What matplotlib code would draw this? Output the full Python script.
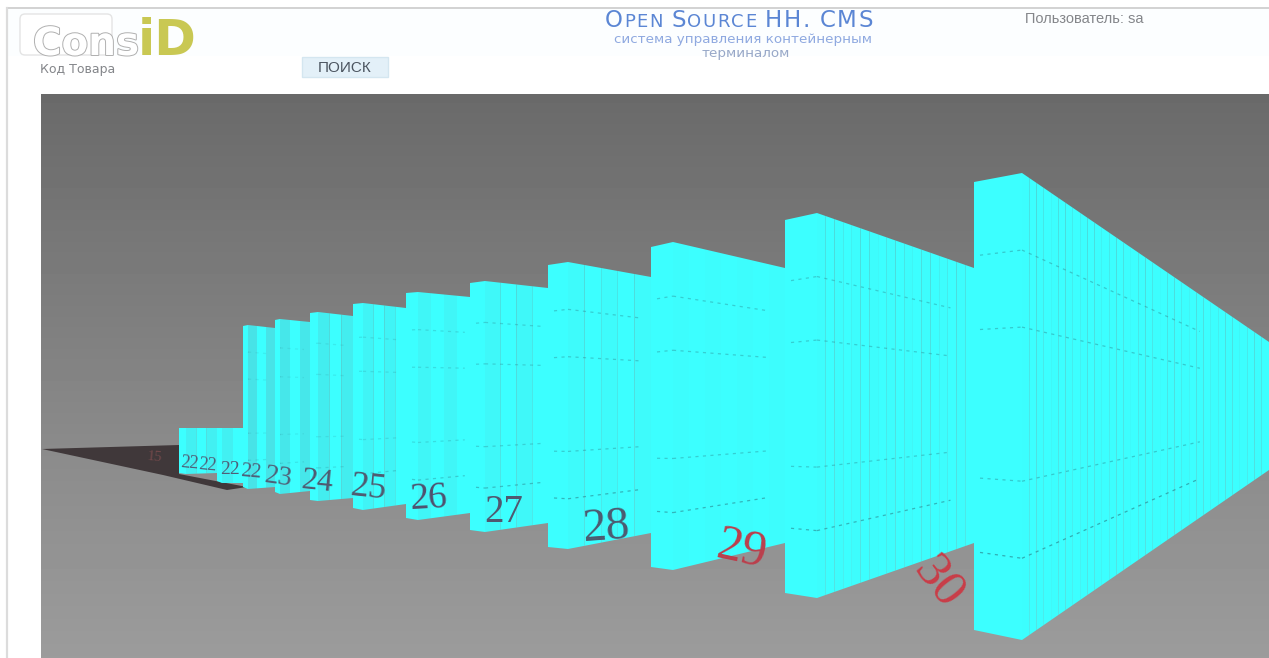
import matplotlib
matplotlib.use('Agg')
import matplotlib.pyplot as plt
import matplotlib.patheffects as pe
from matplotlib.patches import Polygon, Rectangle, FancyBboxPatch
import numpy as np

W, H = 1269, 658

# warehouse racks, nearest group last: (front edge, nearest corner, far edge)
rack_front_x = [179, 217, 243, 275, 310, 353, 406, 470, 548, 651, 785, 974]
rack_peak_x = [186, 222, 248, 280, 318, 363, 418, 485, 568, 673, 817, 1022]
rack_end_x = [217, 243, 275, 310, 353, 406, 470, 548, 651, 785, 974, 1269]
rack_front_top = [428, 428, 326, 320, 313, 304, 293, 283, 265, 247, 220, 182]
rack_peak_top = [428, 428, 325, 319, 312, 303, 292, 281, 262, 242, 213, 173]
rack_end_top = [428, 428, 328, 322, 316, 308, 297, 288, 277, 268, 268, 342]
rack_front_bot = [473, 481, 487, 492, 500, 508, 518, 530, 547, 567, 593, 630]
rack_peak_bot = [474, 483, 489, 494, 501, 510, 520, 532, 549, 570, 598, 640]
rack_end_bot = [473, 483, 487, 491, 498, 504, 513, 523, 533, 543, 543, 470]
rack_columns = [3, 2, 3, 3, 3, 4, 4, 4, 5, 7, 18, 34]
stripe_tone = [0.5, 0.5, 0.9, 0.8, 0.6, 0.35, 0.3, 0.22, 0.14, 0.08, 0.06, 0.04]
shelf_alpha = [0, 0, 0.12, 0.12, 0.15, 0.2, 0.25, 0.32, 0.38, 0.38, 0.38, 0.42]
shelf_reach = [0, 0, 0.8, 0.8, 0.8, 0.85, 0.9, 0.9, 0.85, 0.85, 0.85, 0.72]

# row numbers painted on the floor
row_labels = ['15', '22', '22', '22', '22', '23', '24', '25', '26', '27', '28', '29', '30']
label_x = [155, 190, 208, 230, 251, 278, 317, 368, 429, 504, 607, 742, 938]
label_y = [457, 463, 465, 470, 472, 477, 482, 488, 499, 512, 528, 550, 582]
label_size = [11, 13, 13, 14, 15, 20, 23, 26, 27, 28, 34, 36, 37]
label_rot = [-5, -5, -5, 0, -5, -8, -6, -6, 3, 0, 4, -12, -52]
label_color = ['#70484a', '#4f5f78', '#4f5f78', '#4f5f78', '#4f5f78', '#4f6078', '#4f5a70',
               '#505a70', '#50506e', '#505870', '#4c5a70', '#bb3f4c', '#c93d48']

shelf_levels = [0.165, 0.33, 0.66, 0.825]
shadow_x = [42, 179, 179, 247, 227, 163]
shadow_y = [449, 445, 474, 487, 490, 475]

CYAN = np.array([0.235, 1.0, 1.0])
SHADE = np.array([0.30, 0.84, 0.86])
BLUE = '#5b86d4'
GREY = '#84868a'
OLIVE = '#c9c853'

fig = plt.figure(figsize=(W / 100, H / 100), dpi=100, facecolor='white')
ax = fig.add_axes([0, 0, 1, 1])
ax.set_xlim(0, W)
ax.set_ylim(H, 0)
ax.axis('off')

# page frame and header wash
ax.add_patch(Rectangle((7, 8), W - 7, 48, fc='#fcfeff', ec='none', zorder=0))
ax.plot([7, W], [8, 8], color='#d2d2d2', lw=1.4, zorder=1)
ax.plot([7, 7], [8, H], color='#dcdcdc', lw=1.6, zorder=1)

# backdrop: dark at the top, lighter toward the floor
shade = np.interp(np.arange(94, H), [94, 450, 658], [0.415, 0.545, 0.61])
ax.imshow(shade[:, None], extent=(41, W, H, 94), cmap='gray', vmin=0, vmax=1,
          aspect='auto', zorder=1)
ax.set_xlim(0, W)
ax.set_ylim(H, 0)

ax.add_patch(Polygon(np.column_stack([shadow_x, shadow_y]), fc='#40383a', ec='none', zorder=2))


def interp_edges(x, i):
    xs = [rack_front_x[i], rack_peak_x[i], rack_end_x[i]]
    top = np.interp(x, xs, [rack_front_top[i], rack_peak_top[i], rack_end_top[i]])
    bot = np.interp(x, xs, [rack_front_bot[i], rack_peak_bot[i], rack_end_bot[i]])
    return top, bot


for i in range(len(rack_front_x)):
    x0, xp, x1 = rack_front_x[i], rack_peak_x[i], rack_end_x[i]
    n = rack_columns[i]
    edges = np.concatenate([[x0, xp], np.linspace(xp, x1, n + 1)[1:]])
    for k in range(len(edges) - 1):
        xs = [edges[k], edges[k + 1]]
        top, bot = interp_edges(np.array(xs), i)
        mix = stripe_tone[i] * (0.0 if k % 2 == 0 else 0.75)
        col = CYAN * (1 - mix) + SHADE * mix
        pts = list(zip(xs, top)) + list(zip(xs[::-1], bot[::-1]))
        ax.add_patch(Polygon(pts, fc=col, ec='none', zorder=3 + i * 0.01))
    # shelf lines, only really visible on the near part of each group
    if shelf_alpha[i] == 0:
        continue
    xs = np.linspace(xp, xp + (x1 - xp) * shelf_reach[i], 60)
    top, bot = interp_edges(xs, i)
    front_x = np.array([x0 + 6, xp])
    ft, fb = interp_edges(front_x, i)
    for lev in shelf_levels:
        a = shelf_alpha[i] * (1.5 if lev == shelf_levels[3] else 1.0)
        ax.plot(xs, top + (bot - top) * lev, color='#2a7f88', lw=0.9, alpha=a,
                ls=(0, (2.5, 3.5)), zorder=3.5)
        ax.plot(front_x, ft + (fb - ft) * lev, color='#2a7f88', lw=0.9, alpha=a,
                ls=(0, (2.5, 3.5)), zorder=3.5)

for lab, x, y, s, r, c in zip(row_labels, label_x, label_y, label_size, label_rot, label_color):
    ax.text(x, y, lab, fontsize=s, rotation=r, color=c, family='Liberation Serif',
            ha='center', va='center', zorder=5, rotation_mode='anchor')

# logo
ax.add_patch(FancyBboxPatch((20, 14), 92, 41, boxstyle='round,pad=0,rounding_size=5',
                            fc='white', ec='#e4e4e4', lw=1, zorder=2))
ax.text(33, 55, 'Cons', fontsize=28, fontweight='bold', color='white', family='DejaVu Sans',
        ha='left', va='baseline', zorder=3,
        path_effects=[pe.withStroke(linewidth=1.4, foreground='#b0b0b0')])
ax.text(138, 55, 'iD', fontsize=36, fontweight='bold', color=OLIVE, family='DejaVu Sans',
        ha='left', va='baseline', zorder=3)

ax.text(40, 69, 'Код Товара', fontsize=9, color=GREY, family='DejaVu Sans', va='center', zorder=3)

# search button
ax.add_patch(Rectangle((302, 57), 86, 20, fc='#e3f0f8', ec='#d4e6f0', lw=1, zorder=2))
ax.text(345, 67.5, 'ПОИСК', fontsize=11, color='#4c5560', family='Liberation Sans',
        ha='center', va='center', zorder=3)

# small-caps heading, spaced out piece by piece
title_parts = [('O', 16.5), ('PEN ', 13), ('S', 16.5), ('OURCE ', 13), ('HH. CMS', 16.5)]
renderer = fig.canvas.get_renderer()
x = 605
for part, size in title_parts:
    for ch in part:
        ax.text(x, 27, ch, fontsize=size, color=BLUE, family='DejaVu Sans', va='baseline', zorder=3)
        probe = ax.text(0, 0, ch.replace(' ', '.'), fontsize=size, family='DejaVu Sans', alpha=0)
        x += probe.get_window_extent(renderer).width + 1.4
        probe.remove()

ax.text(743, 39.5, 'система управления контейнерным', fontsize=9.7, color='#8fa9e0',
        family='DejaVu Sans', ha='center', va='center', zorder=3)
ax.text(746, 54, 'терминалом', fontsize=9.7, color='#98a8c8', family='DejaVu Sans',
        ha='center', va='center', zorder=3)
ax.text(1025, 19, 'Пользователь: sa', fontsize=10.5, color=GREY, family='Liberation Sans',
        va='center', zorder=3)

fig.savefig('out.png', dpi=100)
